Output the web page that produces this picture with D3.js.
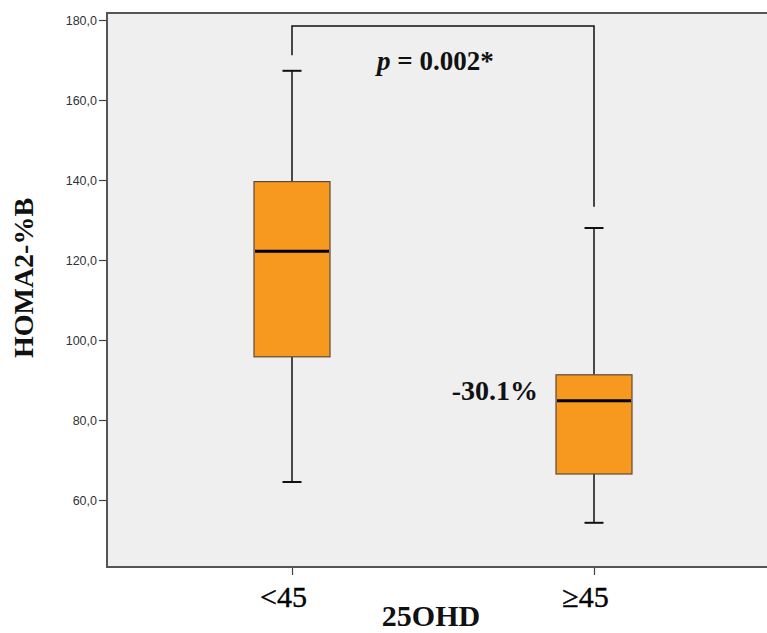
<!DOCTYPE html>
<html>
<head>
<meta charset="utf-8">
<script src="https://cdn.jsdelivr.net/npm/d3@7"></script>
<style>
  body { margin: 0; background: #fff; }
  svg { display: block; }
</style>
</head>
<body>
<div id="chart"></div>
<script>
// data
var groups = ["<45", "\u226545"];
var whiskerLow = [64.5, 54.3];
var q1 = [95.8, 66.5];
var median = [122.2, 84.8];
var q3 = [139.6, 91.3];
var whiskerHigh = [167.3, 128.0];
var yTicks = [60, 80, 100, 120, 140, 160, 180];
var bracketTop = 178.5;
var bracketEnds = [171.2, 133.3];
var pLabel = "0.002*";
var changeLabel = "-30.1%";

var W = 767, H = 633;
var frame = {left: 107, top: 13, right: 767, bottom: 567};

var svg = d3.select("#chart").append("svg")
    .attr("width", W)
    .attr("height", H);

var y = d3.scaleLinear().domain([43.25, 181.75]).range([frame.bottom, frame.top]);
var x = d3.scalePoint().domain(groups).range([292, 594]);
var boxW = 76, capW = 19;

// plot background
svg.append("rect")
    .attr("x", frame.left)
    .attr("y", frame.top)
    .attr("width", frame.right - frame.left)
    .attr("height", frame.bottom - frame.top)
    .attr("fill", "#efefef");

// y axis
var yAxis = d3.axisLeft(y)
    .tickValues(yTicks)
    .tickSize(8)
    .tickFormat(d => d3.format(".1f")(d).replace(".", ","));

var gy = svg.append("g")
    .attr("transform", "translate(" + frame.left + ",0)")
    .call(yAxis);
gy.select(".domain").remove();
gy.selectAll(".tick line").attr("stroke", "#444").attr("stroke-width", 1.2);
gy.selectAll(".tick text")
    .attr("x", -10)
    .attr("fill", "#333")
    .style("font-family", "'Liberation Sans', Arial, sans-serif")
    .style("font-size", "12.5px");

// x axis
var xAxis = d3.axisBottom(x).tickSize(8).tickPadding(6);
var gx = svg.append("g")
    .attr("transform", "translate(0," + frame.bottom + ")")
    .call(xAxis);
gx.select(".domain").remove();
gx.selectAll(".tick line").attr("stroke", "#444").attr("stroke-width", 1.2);
gx.selectAll(".tick text")
    .attr("fill", "#000")
    .attr("dx", -9)
    .attr("dy", "0.85em")
    .style("font-family", "'Liberation Serif', 'Times New Roman', serif")
    .style("font-size", "30px")
    .style("stroke", "#000")
    .style("stroke-width", 0.4);

// frame lines (left, top, bottom)
svg.append("path")
    .attr("d", "M" + frame.right + "," + frame.top + "H" + frame.left + "V" + frame.bottom + "H" + frame.right)
    .attr("fill", "none")
    .attr("stroke", "#555")
    .attr("stroke-width", 2);

// boxes
var boxes = svg.selectAll(".box")
    .data(groups)
    .enter().append("g")
    .attr("class", "box");

boxes.append("line")
    .attr("x1", d => x(d)).attr("x2", d => x(d))
    .attr("y1", (d, i) => y(whiskerHigh[i]))
    .attr("y2", (d, i) => y(q3[i]))
    .attr("stroke", "#111").attr("stroke-width", 1.5);

boxes.append("line")
    .attr("x1", d => x(d)).attr("x2", d => x(d))
    .attr("y1", (d, i) => y(q1[i]))
    .attr("y2", (d, i) => y(whiskerLow[i]))
    .attr("stroke", "#111").attr("stroke-width", 1.5);

boxes.append("line")
    .attr("x1", d => x(d) - capW / 2).attr("x2", d => x(d) + capW / 2)
    .attr("y1", (d, i) => y(whiskerHigh[i]))
    .attr("y2", (d, i) => y(whiskerHigh[i]))
    .attr("stroke", "#111").attr("stroke-width", 2);

boxes.append("line")
    .attr("x1", d => x(d) - capW / 2).attr("x2", d => x(d) + capW / 2)
    .attr("y1", (d, i) => y(whiskerLow[i]))
    .attr("y2", (d, i) => y(whiskerLow[i]))
    .attr("stroke", "#111").attr("stroke-width", 2);

boxes.append("rect")
    .attr("x", d => x(d) - boxW / 2)
    .attr("width", boxW)
    .attr("y", (d, i) => y(q3[i]))
    .attr("height", (d, i) => y(q1[i]) - y(q3[i]))
    .attr("fill", "#f7981f")
    .attr("stroke", "#5a4a3a")
    .attr("stroke-width", 1.2);

boxes.append("line")
    .attr("x1", d => x(d) - boxW / 2 + 1).attr("x2", d => x(d) + boxW / 2 - 1)
    .attr("y1", (d, i) => y(median[i]))
    .attr("y2", (d, i) => y(median[i]))
    .attr("stroke", "#000").attr("stroke-width", 3);

// significance bracket
svg.append("path")
    .attr("d", "M" + x(groups[0]) + "," + y(bracketEnds[0]) +
               "V" + y(bracketTop) +
               "H" + x(groups[1]) +
               "V" + y(bracketEnds[1]))
    .attr("fill", "none")
    .attr("stroke", "#111")
    .attr("stroke-width", 1.5);

var pText = svg.append("text")
    .attr("x", x(groups[0]) + 85)
    .attr("y", y(167.5))
    .attr("fill", "#111")
    .style("font-family", "'Liberation Serif', 'Times New Roman', serif")
    .style("font-size", "27px")
    .style("font-weight", "bold");
pText.append("tspan").style("font-style", "italic").text("p");
pText.append("tspan").text(" = " + pLabel);

svg.append("text")
    .attr("x", x(groups[1]) - boxW / 2 - 18)
    .attr("y", y(85))
    .attr("text-anchor", "end")
    .attr("fill", "#111")
    .style("font-family", "'Liberation Serif', 'Times New Roman', serif")
    .style("font-size", "28px")
    .style("font-weight", "bold")
    .text(changeLabel);

// axis titles
svg.append("text")
    .attr("x", 431)
    .attr("y", 626)
    .attr("text-anchor", "middle")
    .attr("fill", "#111")
    .style("font-family", "'Liberation Serif', 'Times New Roman', serif")
    .style("font-size", "30px")
    .style("font-weight", "bold")
    .text("25OHD");

svg.append("text")
    .attr("transform", "translate(33," + 278 + ") rotate(-90)")
    .attr("text-anchor", "middle")
    .attr("fill", "#111")
    .style("font-family", "'Liberation Serif', 'Times New Roman', serif")
    .style("font-size", "28px")
    .style("font-weight", "bold")
    .text("HOMA2-%B");
</script>
</body>
</html>
